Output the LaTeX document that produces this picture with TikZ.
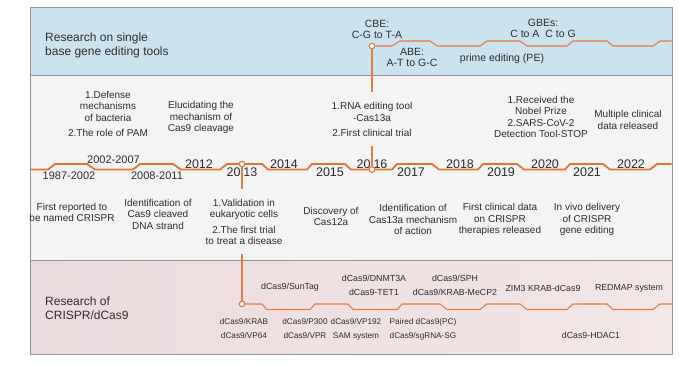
\documentclass[tikz,border=0pt]{standalone}
\usepackage{fontspec}
\setmainfont{Liberation Sans}
\usetikzlibrary{calc}
\definecolor{orng}{RGB}{232,114,44}
\definecolor{orngb}{RGB}{226,124,70}
\definecolor{txt}{RGB}{45,45,45}
\definecolor{bandblue}{RGB}{203,227,239}
\definecolor{bandgray}{RGB}{244,244,245}
\definecolor{bandpinkL}{RGB}{236,219,222}
\definecolor{bandpinkR}{RGB}{243,230,230}
\definecolor{framegray}{RGB}{150,150,150}
\tikzset{
 lbl/.style={text=txt, align=center, inner sep=0pt, font=\fontsize{10}{11.5}\selectfont},
 yr/.style={text=txt, inner sep=0pt, font=\fontsize{12.5}{13}\selectfont},
 rng/.style={text=txt, inner sep=0pt, font=\fontsize{11}{12}\selectfont},
 toplbl/.style={text=txt, align=center, inner sep=0pt, font=\fontsize{10.5}{11.5}\selectfont},
 botlbl/.style={text=txt, align=center, inner sep=0pt, font=\fontsize{8.8}{14}\selectfont},
 rowlbl/.style={text=txt, align=center, inner sep=0pt, font=\fontsize{8.2}{14}\selectfont},
 head/.style={text=txt, align=left, inner sep=0pt, anchor=west, font=\fontsize{12}{14.5}\selectfont},
 mainline/.style={draw=orng, line width=1.8pt, line join=round},
 subline/.style={draw=orngb, line width=1.1pt, line join=round},
 dot/.style={circle, draw=orngb, fill=white, line width=1pt, inner sep=0pt, minimum size=5.5pt},
}
\begin{document}
\begin{tikzpicture}[x=1pt,y=-1pt]
\useasboundingbox (0,0) rectangle (691,365);
\fill[white] (0,0) rectangle (691,365);
% bands
\fill[bandblue] (30,7) rectangle (672,75);
\fill[bandgray] (30,75) rectangle (672,260);
\shade[left color=bandpinkL, right color=bandpinkR] (30,260) rectangle (672,354);
\draw[framegray, line width=0.8pt] (30,75) -- (672,75);
\draw[framegray, line width=0.8pt] (30,260) -- (672,260);
\draw[framegray, line width=0.9pt] (30,7) rectangle (672,354);

% junction dots
\node[dot] (ntop) at (372,46) {};
\node[dot] (n2013) at (242,164) {};
\node[dot] (n2016) at (372,169.5) {};
\node[dot] (nbot) at (242,304) {};

% text blocks crossed by the vertical connectors
\node[lbl] (rna) at (372,119.5) {1.RNA editing tool\\-Cas13a\\[4pt]2.First clinical trial};
\node[lbl] (val) at (244,222) {1.Validation in\\eukaryotic cells\\[4pt]2.The first trial\\to treat a disease};

% vertical connectors
\draw[subline] (ntop) -- ($(ntop |- rna.north)+(0,-10)$);
\draw[subline] ($(n2016 |- rna.south)+(0,9)$) -- (n2016);
\draw[subline] (n2013) -- ($(n2013 |- val.north)+(0,-10)$);
\draw[subline] ($(nbot |- val.south)+(0,9)$) -- (nbot);

% main timeline
\draw[mainline] (30,169.5) -- (48,169.5) -- (55,164) -- (87,164) -- (95,169.5) -- (133,169.5) -- (140,164) -- (173,164) -- (181,169.5) -- (220,169.5) -- (227,164) -- (262,164) -- (268,169.5) -- (307,169.5) -- (312,164) -- (345,164) -- (351,169.5) -- (392,169.5) -- (397,164) -- (432,164) -- (439,169.5) -- (478,169.5) -- (483,164) -- (517,164) -- (524,169.5) -- (565,169.5) -- (570,164) -- (603,164) -- (610,169.5) -- (650,169.5) -- (657,164) -- (671.5,164);

% top timeline
\draw[subline] (ntop) -- (392,46) -- (400,41) -- (430,41) -- (437,46) -- (480,46) -- (487,41) -- (520,41) -- (527,46) -- (567,46) -- (573,41) -- (607,41) -- (613,46) -- (653,46) -- (660,41) -- (671.5,41);

% bottom timeline
\draw[subline] (nbot) -- (262,304) -- (267,309.5) -- (310,309.5) -- (315,304) -- (348,304) -- (353,309.5) -- (397,309.5) -- (402,304) -- (440,304) -- (447,309.5) -- (480,309.5) -- (487,304) -- (520,304) -- (527,309.5) -- (567,309.5) -- (573,304) -- (607,304) -- (613,309.5) -- (653,309.5) -- (660,304) -- (671.5,304);

% redraw dots on top
\node[dot] at (ntop) {};
\node[dot] at (n2013) {};
\node[dot] at (n2016) {};
\node[dot] at (nbot) {};

% headings
\node[head] (h1) at (45,45.5) {Research on single\\base gene editing tools};
\node[head] (h2) at (45,308) {Research of\\CRISPR/dCas9};

% top band labels
\node[toplbl] (cbe) at (377,29.5) {CBE:\\C-G to T-A};
\node[toplbl] (abe) at (412,57.5) {ABE:\\A-T to G-C};
\node[toplbl] (pe) at (502,59) {prime editing (PE)};
\node[toplbl] (gbe) at (543,28.5) {GBEs:\\C to A\ \ C to G};

% years
\node[rng] (y1) at (69,176) {1987-2002};
\node[rng] (y2) at (113.5,160) {2002-2007};
\node[rng] (y3) at (157,176) {2008-2011};
\node[yr] (y2012) at (199,164.5) {2012};
\node[yr] (y2013) at (242,172.5) {20\hspace{3pt}13};
\node[yr] (y2014) at (284,164.5) {2014};
\node[yr] (y2015) at (330,172.5) {2015};
\node[yr] (y2016) at (372,164.5) {20\hspace{3pt}16};
\node[yr] (y2017) at (411,172.5) {2017};
\node[yr] (y2018) at (460,164.5) {2018};
\node[yr] (y2019) at (501,172.5) {2019};
\node[yr] (y2020) at (545,164.5) {2020};
\node[yr] (y2021) at (587,172.5) {2021};
\node[yr] (y2022) at (631,164.5) {2022};

% middle band upper labels
\node[lbl] (def) at (108,114) {1.Defense\\mechanisms\\of bacteria\\[4pt]2.The role of PAM};
\node[lbl] (elu) at (201,117.5) {Elucidating the\\mechanism of\\Cas9 cleavage};
\node[lbl] (nob) at (541,117) {1.Received the\\Nobel Prize\\2.SARS-CoV-2\\Detection Tool-STOP};
\node[lbl] (mul) at (628,120) {Multiple clinical\\data released};

% middle band lower labels
\node[lbl] (fir) at (72,212.5) {First reported to\\be named CRISPR};
\node[lbl] (idc) at (158,214) {Identification of\\Cas9 cleaved\\DNA strand};
\node[lbl] (dis) at (331,216.5) {Discovery of\\Cas12a};
\node[lbl] (idm) at (413,219.5) {Identification of\\Cas13a mechanism\\of action};
\node[lbl] (fcd) at (500,219.5) {First clinical data\\on CRISPR\\therapies released};
\node[lbl] (ivd) at (587,219.5) {In vivo delivery\\of CRISPR\\gene editing};

% bottom band labels
\node[botlbl] (sun) at (290,287.5) {dCas9/SunTag};
\node[botlbl] (dnm) at (374,285) {dCas9/DNMT3A\\dCas9-TET1};
\node[botlbl] (sph) at (455,285) {dCas9/SPH\\dCas9/KRAB-MeCP2};
\node[botlbl] (zim) at (543,288) {ZIM3 KRAB-dCas9};
\node[botlbl] (red) at (629,288) {REDMAP system};
\node[rowlbl] (krab) at (244,329) {dCas9/KRAB\\dCas9/VP64};
\node[rowlbl] (p300) at (305,329) {dCas9/P300\\dCas9/VPR};
\node[rowlbl] (vp192) at (356,329) {dCas9/VP192\\SAM system};
\node[rowlbl] (pair) at (423,329) {Paired dCas9(PC)\\dCas9/sgRNA-SG};
\node[botlbl] (hdac) at (591,335) {dCas9-HDAC1};
\end{tikzpicture}
\end{document}
